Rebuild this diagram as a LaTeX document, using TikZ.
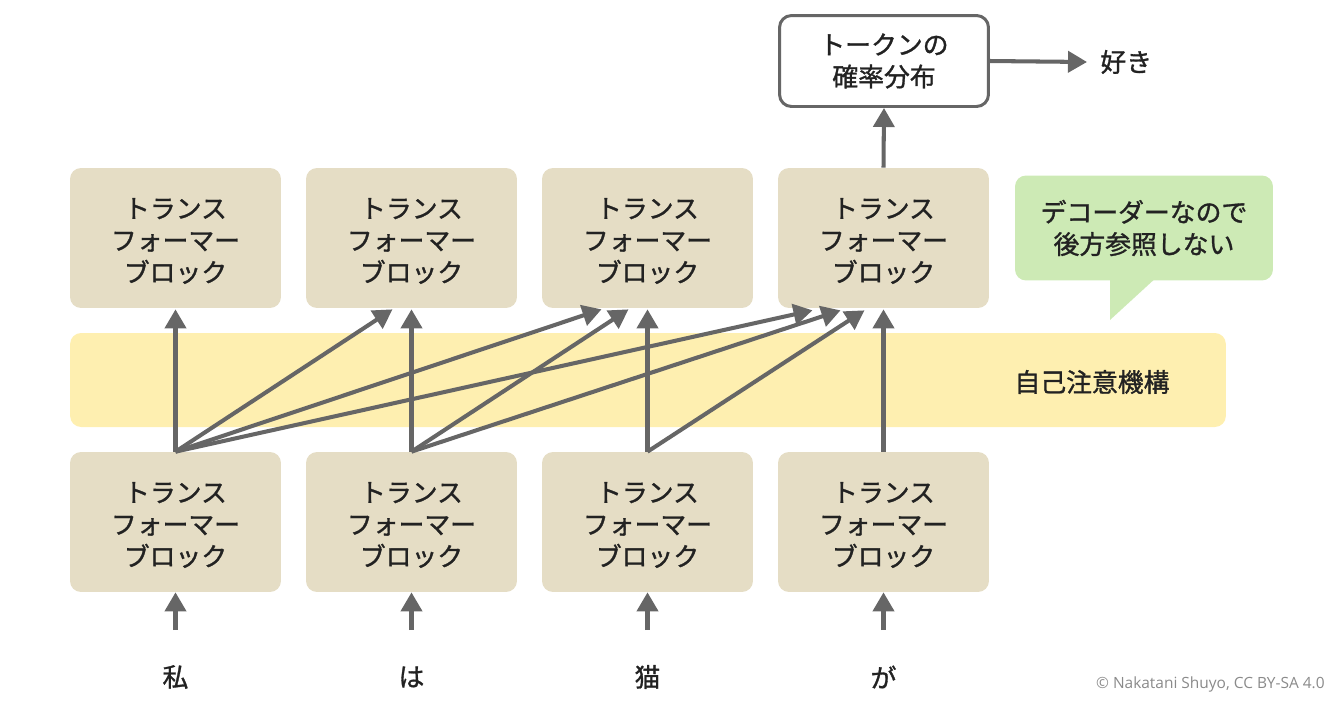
\documentclass[tikz,border=0pt]{standalone}
\usepackage{fontspec}
\setmainfont{Noto Sans CJK JP}
\newfontfamily\cjk[FakeBold=1.2]{Noto Sans CJK JP}
\newfontfamily\latinsans{Open Sans}
\usetikzlibrary{arrows.meta,calc}
\definecolor{blockfill}{HTML}{E5DDC5}
\definecolor{bandfill}{HTML}{FEEFB0}
\definecolor{callfill}{HTML}{CDEAB5}
\definecolor{arrgray}{HTML}{666666}
\definecolor{txt}{HTML}{222222}
\definecolor{copy}{HTML}{8A8A8A}
\tikzset{
  tfblock/.style={fill=blockfill, rounded corners=0.22cm, minimum width=4.22cm, minimum height=2.8cm,
    align=center, text=txt, font=\cjk\fontsize{14.7}{18.2}\selectfont, inner sep=0pt},
  arr/.style={draw=arrgray, line width=2.3pt, -{Triangle[length=0.38cm,width=0.42cm]}},
  lbl/.style={text=txt, font=\cjk\fontsize{14.7}{18.2}\selectfont, inner sep=0pt}
}
\begin{document}
\begin{tikzpicture}[x=0.02cm,y=-0.02cm]
\useasboundingbox (0,0) rectangle (1343,708);
% band
\node[fill=bandfill, rounded corners=0.22cm, minimum width=23.12cm, minimum height=1.88cm, inner sep=0pt] (band) at (648,380) {};
\node[lbl, anchor=center] (bandlbl) at (1092,382) {自己注意機構};
% callout
\fill[callfill] (1110,276) -- (1158,276) -- (1110,320) -- cycle;
\node[fill=callfill, rounded corners=0.22cm, minimum width=5.16cm, minimum height=2.1cm, align=center,
  text=txt, font=\cjk\fontsize{14.7}{18.2}\selectfont, inner sep=0pt] (call) at (1144,228) {デコーダーなので\\後方参照しない};
% blocks
\foreach \i/\x in {1/175.5,2/411.5,3/647.5,4/883.5}{
  \node[tfblock] (t\i) at (\x,238) {};
  \node[align=center, text=txt, font=\cjk\fontsize{14.7}{18.2}\selectfont, inner sep=0pt] (tt\i) at (\x,241) {トランス\\フォーマー\\ブロック};
  \node[tfblock] (b\i) at (\x,522) {};
  \node[align=center, text=txt, font=\cjk\fontsize{14.7}{18.2}\selectfont, inner sep=0pt] (bt\i) at (\x,525) {トランス\\フォーマー\\ブロック};
}
% output box
\node[draw=arrgray, line width=1.7pt, fill=white, rounded corners=0.24cm, minimum width=4.18cm, minimum height=1.82cm,
  align=center, text=txt, font=\cjk\fontsize{14.7}{18.2}\selectfont, inner sep=0pt] (prob) at (884,61) {トークンの\\確率分布};
\node[lbl, anchor=west] (suki) at (1100,62) {好き};
\draw[arr] (prob.east) -- ($(suki.west)+(-13,0)$);
\draw[arr] (t4.north) -- (prob.south);
% tokens
\foreach \i/\x/\w in {1/175.5/私,2/411.5/は,3/647.5/猫,4/883.5/が}{
  \node[lbl] (w\i) at (\x,677) {\w};
  \coordinate (s\i) at (\x,630);
  \draw[arr] (s\i) -- (b\i.south);
}
% attention arrows
\draw[arr] (b1.north) -- ($(t1.south)+(0,1)$);
\draw[arr] (b1.north) -- ($(t2.south)+(-19,1)$);
\draw[arr] (b1.north) -- ($(t3.south)+(-46,1)$);
\draw[arr] (b1.north) -- ($(t4.south)+(-71,2)$);
\draw[arr] (b2.north) -- ($(t2.south)+(0,1)$);
\draw[arr] (b2.north) -- ($(t3.south)+(-19,1)$);
\draw[arr] (b2.north) -- ($(t4.south)+(-43,2)$);
\draw[arr] (b3.north) -- ($(t3.south)+(0,1)$);
\draw[arr] (b3.north) -- ($(t4.south)+(-19,2)$);
\draw[arr] (b4.north) -- ($(t4.south)+(0,1)$);
% copyright
\node[text=copy, font=\latinsans\fontsize{8.8}{10}\selectfont, anchor=east, inner sep=0pt] (cr) at (1325,684) {© Nakatani Shuyo, CC BY-SA 4.0};
\end{tikzpicture}
\end{document}
